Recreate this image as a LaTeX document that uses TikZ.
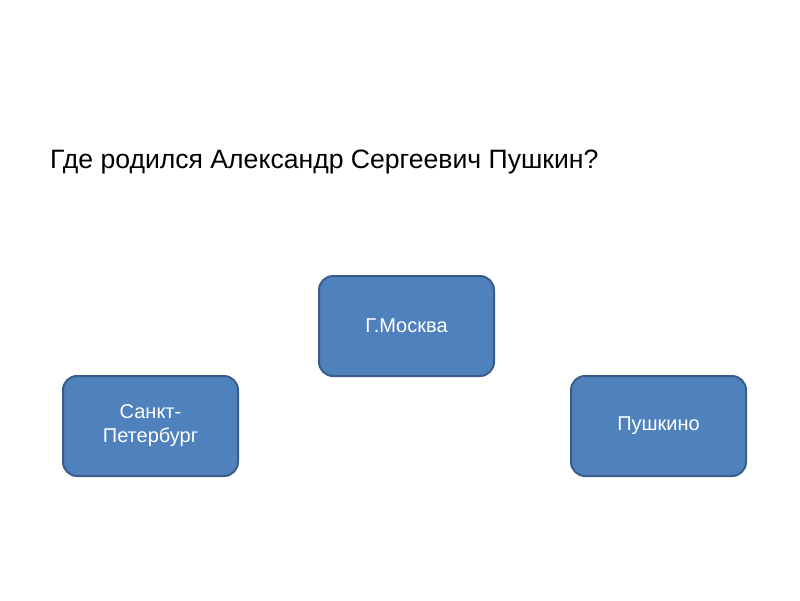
\documentclass[tikz,border=0pt]{standalone}
\usepackage{fontspec}
\setmainfont{Liberation Sans}
\definecolor{boxfill}{HTML}{4F81BD}
\definecolor{boxline}{HTML}{385D8A}
\begin{document}
\begin{tikzpicture}[x=1pt,y=-1pt,
  answer/.style={draw=boxline, line width=2pt, fill=boxfill, rounded corners=14pt,
    minimum width=175pt, minimum height=100pt, text=white, font=\fontsize{20}{24}\selectfont,
    align=center, inner sep=0pt, anchor=north west}]
\useasboundingbox[fill=white] (0,0) rectangle (800,600);
\node[anchor=base west, inner sep=0pt, font=\fontsize{26.6}{30}\selectfont] (q) at (50,168) {Где родился Александр Сергеевич Пушкин?};
\node[answer] (msk) at (318,275) {Г.Москва};
\node[answer] (spb) at (62,375) {Санкт-\\Петербург};
\node[answer] (push) at (570,375) {Пушкино};
\end{tikzpicture}
\end{document}
